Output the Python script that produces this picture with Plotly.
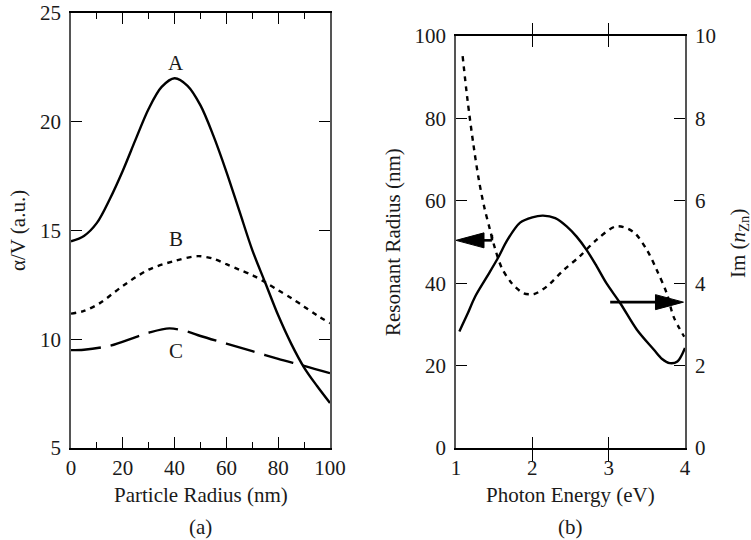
import plotly.graph_objects as go

# ---------------- Panel (a) data ----------------
radius_A = [0, 5, 10, 15, 20, 25, 30, 35, 40, 45, 50, 55, 60, 65, 70, 75, 80, 85, 90, 95, 100]
alpha_A = [14.5, 14.75, 15.35, 16.45, 17.75, 19.2, 20.6, 21.6, 22.0, 21.65, 20.75, 19.35, 17.7, 15.9, 14.1, 12.6, 11.1, 9.8, 8.7, 7.85, 7.07]

radius_B = [0, 5, 11, 20, 30, 40, 49, 55, 60, 65, 70, 75, 80, 85, 90, 95, 100]
alpha_B = [11.18, 11.3, 11.65, 12.45, 13.2, 13.6, 13.82, 13.7, 13.45, 13.2, 12.95, 12.62, 12.25, 11.9, 11.5, 11.1, 10.74]

radius_C = [0, 5, 15, 25, 30, 38, 45, 50, 60, 70, 80, 90, 100]
alpha_C = [9.5, 9.52, 9.7, 10.1, 10.3, 10.5, 10.35, 10.15, 9.8, 9.45, 9.1, 8.78, 8.44]

curve_labels = ["A", "B", "C"]
label_x = [40.6, 40.6, 40.6]
label_y = [22.7, 14.6, 9.45]

# ---------------- Panel (b) data ----------------
energy_res = [1.087, 1.15, 1.227, 1.30, 1.37, 1.445, 1.51, 1.60, 1.73, 1.88, 1.97, 2.03, 2.19, 2.41, 2.62, 2.84, 3.1, 3.32, 3.50, 3.63, 3.76, 3.85, 3.99]
resonant_radius = [95.1, 84.6, 73.8, 65.0, 58.5, 53.0, 48.5, 43.7, 40.0, 37.6, 37.3, 37.4, 39.2, 43.2, 46.5, 50.5, 53.8, 52.5, 48.1, 43.2, 37.6, 31.9, 27.0]

energy_im = [1.044, 1.15, 1.25, 1.40, 1.555, 1.67, 1.84, 2.0, 2.14, 2.30, 2.45, 2.58, 2.71, 2.84, 2.97, 3.15, 3.37, 3.59, 3.70, 3.80, 3.90, 4.0]
im_n = [2.83, 3.25, 3.67, 4.14, 4.63, 5.04, 5.47, 5.60, 5.64, 5.58, 5.38, 5.13, 4.81, 4.42, 4.00, 3.52, 2.87, 2.39, 2.16, 2.06, 2.10, 2.43]

# arrows (tip x, tail x, y on left axis of panel b)
arrow_left = dict(tip=1.0, tail=1.47, y=50.4)
arrow_right = dict(tip=3.98, tail=3.02, y=35.4)

FONT = "Liberation Serif, Times New Roman, DejaVu Serif, serif"
INK = "#1a1a1a"
FS = 21

fig = go.Figure()

spl = dict(shape="spline", smoothing=0.9)
fig.add_trace(go.Scatter(x=radius_A, y=alpha_A, mode="lines",
                         line=dict(color="black", width=2.4, **spl),
                         xaxis="x", yaxis="y", showlegend=False))
fig.add_trace(go.Scatter(x=radius_B, y=alpha_B, mode="lines",
                         line=dict(color="black", width=2.4, dash="5px,5px", **spl),
                         xaxis="x", yaxis="y", showlegend=False))
fig.add_trace(go.Scatter(x=radius_C, y=alpha_C, mode="lines",
                         line=dict(color="black", width=2.4, dash="30px,10px", **spl),
                         xaxis="x", yaxis="y", showlegend=False))

fig.add_trace(go.Scatter(x=energy_res, y=resonant_radius, mode="lines",
                         line=dict(color="black", width=2.4, dash="5px,5px", **spl),
                         xaxis="x2", yaxis="y2", showlegend=False))
fig.add_trace(go.Scatter(x=energy_im, y=im_n, mode="lines",
                         line=dict(color="black", width=2.4, **spl),
                         xaxis="x2", yaxis="y3", showlegend=False))

# panel domains
xa_dom = [71 / 751, 330 / 751]
ya_dom = [1 - 448 / 540, 1 - 13 / 540]
xb_dom = [456 / 751, 685 / 751]
yb_dom = [1 - 448 / 540, 1 - 36 / 540]

tickfont = dict(family=FONT, size=FS, color=INK)
common_x = dict(showgrid=False, zeroline=False, showline=True, linecolor="black", linewidth=2,
                ticks="inside", ticklen=11, tickwidth=1.3, tickcolor="black",
                mirror="allticks", tickfont=tickfont, automargin=False)
common_y = dict(showgrid=False, zeroline=False, showline=True, linecolor="#555", linewidth=1.6,
                ticks="inside", ticklen=11, tickwidth=1.3, tickcolor="black",
                tickfont=tickfont, automargin=False)

fig.update_layout(
    width=751, height=540,
    margin=dict(l=0, r=0, t=0, b=0, pad=0, autoexpand=False),
    paper_bgcolor="white", plot_bgcolor="white",
    showlegend=False,
    font=dict(family=FONT, color=INK, size=FS),
    xaxis=dict(domain=xa_dom, anchor="y", range=[0, 100], tickvals=[0, 20, 40, 60, 80, 100],
               minor=dict(dtick=10, ticklen=6, ticks="inside", tickcolor="black", tickwidth=1.3),
               ticklabelstandoff=0, **common_x),
    yaxis=dict(domain=ya_dom, anchor="x", range=[5, 25], tickvals=[5, 10, 15, 20, 25],
               mirror="allticks", ticklabelstandoff=4, **common_y),
    xaxis2=dict(domain=xb_dom, anchor="y2", range=[1, 4], tickvals=[1, 2, 3, 4],
                ticklabelstandoff=0, **common_x),
    yaxis2=dict(domain=yb_dom, anchor="x2", range=[0, 100], tickvals=[0, 20, 40, 60, 80, 100],
                mirror=True, ticklabelstandoff=4, **common_y),
    yaxis3=dict(domain=yb_dom, anchor="x2", overlaying="y2", side="right", range=[0, 10],
                tickvals=[0, 2, 4, 6, 8, 10], ticklabelstandoff=4, **common_y),
)

annotations = []
for name, lx, ly in zip(curve_labels, label_x, label_y):
    annotations.append(dict(x=lx, y=ly, xref="x", yref="y", text=name, showarrow=False,
                            xanchor="center", yanchor="middle",
                            font=dict(family=FONT, size=FS, color=INK)))

title_font = dict(family=FONT, size=FS, color=INK)
titles = [
    ((71 + 330) / 2, 495, "Particle Radius (nm)", 0),
    ((71 + 330) / 2, 527, "(a)", 0),
    ((456 + 685) / 2, 495, "Photon Energy (eV)", 0),
    ((456 + 685) / 2, 527, "(b)", 0),
    (18, 231, "α/V (a.u.)", -90),
    (393, 242, "Resonant Radius (nm)", -90),
    (739, 244, "Im (<i>n</i><sub>Zn</sub>)", -90),
]
for px, py, txt, ang in titles:
    annotations.append(dict(x=px / 751, y=1 - py / 540, xref="paper", yref="paper",
                            xanchor="center", yanchor="middle",
                            text=txt, textangle=ang, showarrow=False, font=title_font))
fig.update_layout(annotations=annotations)

# arrows drawn as shapes in panel (b) data coordinates
head_len_x = 28 / 76.33   # ~28 px
head_half_y = 7.5 / 4.12  # ~7.5 px
shapes = []
al = arrow_left
shapes.append(dict(type="line", xref="x2", yref="y2", x0=al["tip"] + head_len_x * 0.8, x1=al["tail"],
                   y0=al["y"], y1=al["y"], line=dict(color="black", width=2.6)))
shapes.append(dict(type="line", xref="x2", yref="y2", x0=al["tail"], x1=al["tail"],
                   y0=al["y"], y1=al["y"] + 1.3, line=dict(color="black", width=2.6)))
shapes.append(dict(type="path", xref="x2", yref="y2",
                   path=f"M {al['tip']},{al['y']} L {al['tip'] + head_len_x},{al['y'] + head_half_y} "
                        f"L {al['tip'] + head_len_x},{al['y'] - head_half_y} Z",
                   fillcolor="black", line=dict(color="black", width=1)))
ar = arrow_right
shapes.append(dict(type="line", xref="x2", yref="y2", x0=ar["tail"], x1=ar["tip"] - head_len_x * 0.8,
                   y0=ar["y"], y1=ar["y"], line=dict(color="black", width=2.6)))
shapes.append(dict(type="path", xref="x2", yref="y2",
                   path=f"M {ar['tip']},{ar['y']} L {ar['tip'] - head_len_x},{ar['y'] + head_half_y} "
                        f"L {ar['tip'] - head_len_x},{ar['y'] - head_half_y} Z",
                   fillcolor="black", line=dict(color="black", width=1)))
fig.update_layout(shapes=shapes)

fig.write_html("out.html", config={"displayModeBar": False},
               post_script="document.body.style.margin='0';document.body.style.padding='0';")
